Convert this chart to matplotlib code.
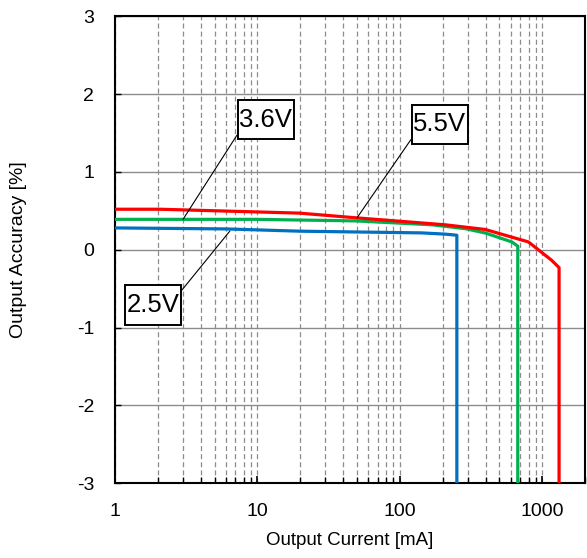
import numpy as np
import matplotlib.pyplot as plt
from matplotlib.path import Path
from matplotlib.ticker import LogLocator, FixedLocator, NullFormatter

plt.rcParams['font.family'] = ['Liberation Sans', 'DejaVu Sans']
plt.rcParams['axes.unicode_minus'] = False

# output accuracy vs load current for three supply voltages
i_55 = [1, 2.06, 19.7, 49, 208, 397, 798, 1160, 1310, 1310]
acc_55 = [0.52, 0.52, 0.47, 0.41, 0.32, 0.26, 0.10, -0.135, -0.23, -3.0]

i_36 = [1, 9.8, 49, 168, 288, 397, 611, 672, 672]
acc_36 = [0.39, 0.39, 0.37, 0.32, 0.27, 0.215, 0.10, 0.045, -3.0]

i_25 = [1, 6.0, 19.7, 142, 208, 251, 251]
acc_25 = [0.28, 0.267, 0.238, 0.216, 0.20, 0.186, -3.0]

x_ticks = [1, 10, 100, 1000]
x_ticklabels = ['1', '10', '100', '1000']
y_ticks = [-3, -2, -1, 0, 1, 2, 3]

fig = plt.figure(figsize=(5.87, 5.58), dpi=100)
ax = fig.add_axes([0.196, 0.134, 0.801, 0.837])

ax.set_xscale('log')
ax.set_xlim(1, 2000)
ax.set_ylim(-3, 3)

# dashed vertical grid on every decade subdivision, solid horizontal grid
minor = LogLocator(base=10, subs=np.arange(2, 10))
ax.xaxis.set_minor_locator(minor)
ax.xaxis.set_minor_formatter(NullFormatter())
ax.xaxis.set_major_locator(FixedLocator(x_ticks))
ax.set_xticklabels(x_ticklabels)
ax.set_yticks(y_ticks)
ax.grid(True, which='both', axis='x', color='#8c8c8c', linestyle=(0, (4, 2.5)), linewidth=0.9)
ax.grid(True, which='major', axis='y', color='#8c8c8c', linestyle='-', linewidth=1.0)
ax.set_axisbelow(True)

ax.tick_params(axis='both', which='both', direction='in', labelsize=14, colors='black')
ax.tick_params(axis='x', which='major', length=5, width=1.2, pad=14)
ax.tick_params(axis='x', which='minor', length=4, width=1.0)
ax.tick_params(axis='y', which='major', length=4, width=1.0, pad=15)
for s in ax.spines.values():
    s.set_linewidth(1.5)
    s.set_color('black')

ax.plot(i_55, acc_55, color='#ff0000', lw=2.3, zorder=4)
ax.plot(i_36, acc_36, color='#00b050', lw=2.3, zorder=3)
ax.plot(i_25, acc_25, color='#0070c0', lw=2.3, zorder=3)

ax.set_xlabel('Output Current [mA]', fontsize=13.5, labelpad=9)
ax.set_ylabel('Output Accuracy [%]', fontsize=14, labelpad=36)


def label_box(x0, y0, width, height, mutation_size):
    # narrow side padding, taller top/bottom padding
    px = 0.06 * mutation_size
    py = 0.3 * mutation_size
    x0, y0 = x0 - px, y0 - py
    x1, y1 = x0 + width + 2 * px, y0 + height + 2 * py
    return Path([(x0, y0), (x1, y0), (x1, y1), (x0, y1), (x0, y0)],
                closed=True)


box = dict(boxstyle=label_box, fc='white', ec='black', lw=1.4)


def callout(label, xy, xytext, relpos):
    ax.annotate(label, xy=xy, xytext=xytext, ha='center', va='center',
                fontsize=18.5, bbox=box, zorder=6,
                arrowprops=dict(arrowstyle='-', lw=0.8, color='black',
                                relpos=relpos, shrinkA=0, shrinkB=0))


callout('3.6V', (3, 0.39), (11.4, 1.67), (0, 0))
callout('5.5V', (50, 0.41), (190, 1.61), (0, 0))
callout('2.5V', (6.4, 0.24), (1.85, -0.71), (1, 1))

fig.savefig('out.png', dpi=100)
